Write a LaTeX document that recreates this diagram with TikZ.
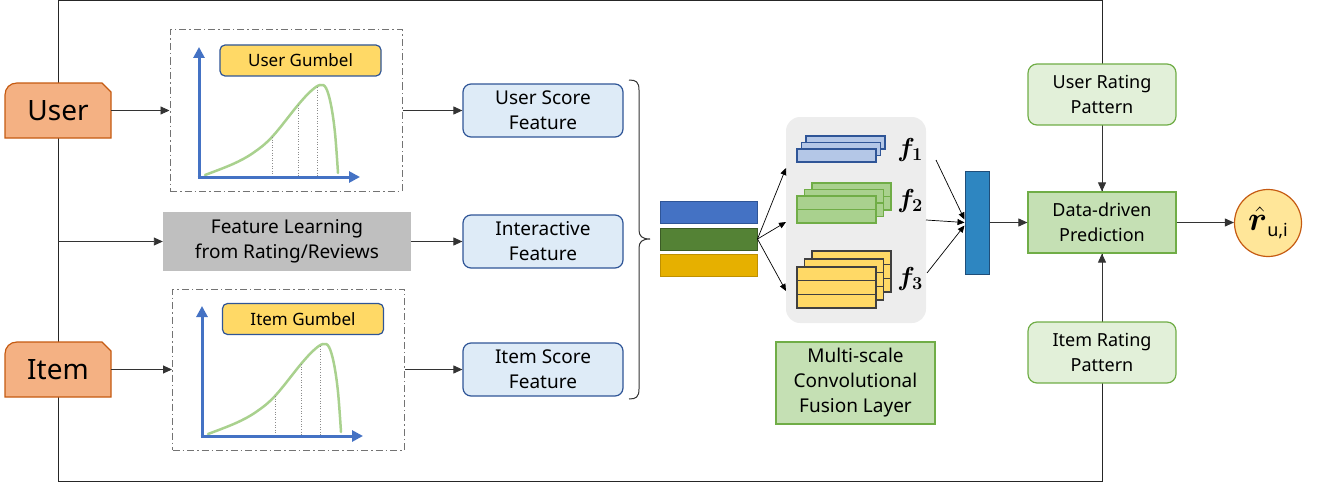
\RequirePackage{fix-cm}
\documentclass[tikz,border=0pt]{standalone}
\usepackage{amsmath}
\usepackage{bm}
\usepackage{fontspec}
\setmainfont{Noto Sans}
\usetikzlibrary{arrows.meta,calc}
\definecolor{oFill}{HTML}{F4B183}
\definecolor{oLine}{HTML}{C55A11}
\definecolor{dBlue}{HTML}{2F5597}
\definecolor{mBlue}{HTML}{4472C4}
\definecolor{lBlue}{HTML}{DEEBF7}
\definecolor{sBlue}{HTML}{B4C7E7}
\definecolor{yFill}{HTML}{FFD966}
\definecolor{gCurve}{HTML}{A9D18E}
\definecolor{gLine}{HTML}{70AD47}
\definecolor{gFill}{HTML}{C5E0B4}
\definecolor{gLight}{HTML}{E2F0D9}
\definecolor{dGreen}{HTML}{548235}
\definecolor{gold}{HTML}{E6B000}
\definecolor{goldLine}{HTML}{BF9000}
\definecolor{panel}{HTML}{EDEDED}
\definecolor{flGray}{HTML}{BFBFBF}
\definecolor{cBar}{HTML}{2E86C1}
\definecolor{cBarLine}{HTML}{1F4E79}
\definecolor{circFill}{HTML}{FFE699}
\tikzset{
  every node/.style={inner sep=0pt, align=center, font=\fontsize{19}{25}\selectfont},
  arr/.style={draw=black!80, line width=0.9pt, -{Triangle[length=9pt,width=8pt]}},
  sarr/.style={draw=black, line width=0.7pt, -{Triangle[length=7pt,width=6pt]}},
  dashbox/.style={draw=black!55, line width=1pt, dash pattern=on 7pt off 3pt on 1.5pt off 3pt, minimum width=232pt, minimum height=161pt},
  gumlabel/.style={draw=dBlue, fill=yFill, line width=1.2pt, rounded corners=5pt, minimum width=161pt, minimum height=31pt, font=\fontsize{17}{20}\selectfont},
  featbox/.style={draw=dBlue, fill=lBlue, line width=1.2pt, rounded corners=8pt, minimum width=160pt, minimum height=53pt},
  patbox/.style={draw=gLine, fill=gLight, line width=1.2pt, rounded corners=9pt, minimum width=148pt, minimum height=61pt, font=\fontsize{18}{25}\selectfont},
  bar/.style={line width=1pt, minimum width=97pt, minimum height=22pt},
  flabel/.style={font=\fontsize{26}{26}\selectfont},
  gumbel/.pic={
    \draw[gCurve, line width=2.5pt, line cap=round] plot[smooth, tension=0.6] coordinates {(6,-2) (34,-13) (54,-24) (73,-40) (99,-72) (112,-86) (121,-92) (127,-89) (132,-72) (136,-44) (139,-4)};
    \draw[black!45, line width=0.6pt, dotted] (73,-40) -- (73,-1) (99,-72) -- (99,-1) (118,-90) -- (118,-1);
    \draw[mBlue, line width=3pt, -{Triangle[length=11pt,width=11pt]}] (0,1.5) -- (0,-130);
    \draw[mBlue, line width=3pt, -{Triangle[length=11pt,width=11pt]}] (-1.5,0) -- (161,0);
  }
}
\begin{document}
\begin{tikzpicture}[x=1pt,y=-1pt]
\useasboundingbox (0,0) rectangle (1317,487);
% outer frame
\coordinate (tl) at (58,0.8);
\coordinate (bl) at (58,481);
\coordinate (br) at (1102,481);
\coordinate (tr) at (1102,0.8);
\draw[black!85, line width=1pt] (tr) -- (tl) -- (bl) -- (br) -- cycle;

% User / Item tabs
\filldraw[fill=oFill, draw=oLine, line width=1.2pt] (5,138) -- (5,95) .. controls (5,88) and (10,83) .. (17,83) -- (102,83) -- (111,92) -- (111,138) -- cycle;
\node[minimum width=106pt, minimum height=55pt, font=\fontsize{28}{30}\selectfont] (user) at (58,110.5) {User};
\filldraw[fill=oFill, draw=oLine, line width=1.2pt] (5,397) -- (5,354) .. controls (5,347) and (10,342) .. (17,342) -- (102,342) -- (111,351) -- (111,397) -- cycle;
\node[minimum width=106pt, minimum height=55pt, font=\fontsize{28}{30}\selectfont] (item) at (58,369.5) {Item};

% Gumbel boxes
\node[dashbox] (ubox) at (286,110.5) {};
\node[dashbox] (ibox) at (288.5,369.5) {};
\pic at (199,177) {gumbel};
\pic at (202,436) {gumbel};
\node[gumlabel] (ug) at (300.5,60.5) {User Gumbel};
\node[gumlabel] (ig) at (303,319) {Item Gumbel};

% Feature learning
\node[fill=flGray, minimum width=248pt, minimum height=59pt] (fl) at (287,241.5) {Feature Learning\\from Rating/Reviews};
\coordinate (lfl) at (58,241.5);

\draw[arr] (user.east) -- (ubox.west);
\draw[arr] (item.east) -- (ibox.west);
\draw[arr] (lfl) -- (fl.west);

% Feature boxes
\node[featbox] (usf) at (543,110.5) {User Score\\Feature};
\node[featbox] (inf) at (543,241.5) {Interactive\\Feature};
\node[featbox] (isf) at (543,369.5) {Item Score\\Feature};
\draw[arr] (ubox.east) -- (usf.west);
\draw[arr] (fl.east) -- (inf.west);
\draw[arr] (ibox.east) -- (isf.west);

% brace
\draw[black!80, line width=1pt] (629,80) .. controls (636,80) and (639,82) .. (639,90) -- (639,230) .. controls (639,236) and (642,239) .. (650,239) .. controls (642,239) and (639,242) .. (639,248) -- (639,389) .. controls (639,397) and (636,399) .. (629,399);

% three bars
\node[bar, fill=mBlue, draw=dBlue] (bb) at (708.5,212.5) {};
\node[bar, fill=dGreen, draw=dGreen!70!black] (bg) at (708.5,239) {};
\node[bar, fill=gold, draw=goldLine] (by) at (708.5,265) {};

% conv panel
\node[fill=panel, rounded corners=14pt, minimum width=140pt, minimum height=206pt] (panel) at (856,220) {};
\coordinate (p1) at (786,168);
\coordinate (p2) at (786,222);
\coordinate (p3) at (786,291);
\draw[sarr] (bg.east) -- (p1);
\draw[sarr] (bg.east) -- (p2);
\draw[sarr] (bg.east) -- (p3);

% f1 stack
\foreach \x/\y in {806/136, 801.5/142.5, 797/149}
  \filldraw[fill=sBlue, draw=dBlue, line width=1.2pt] (\x,\y) rectangle ++(79,13);
% f2 stack
\foreach \x/\y in {812/183, 804.5/189.5, 797/196}{
  \filldraw[fill=gCurve, draw=gLine, line width=1.2pt] (\x,\y) rectangle ++(79,27);
  \draw[gLine, line width=1.2pt] (\x,\y+13.5) -- ++(79,0);
}
% f3 stack
\foreach \x/\y in {812/251, 804.5/259, 797/267}{
  \filldraw[fill=yFill, draw=black!75, line width=1.2pt] (\x,\y) rectangle ++(79,41);
  \draw[black!75, line width=1.2pt] (\x,\y+13.7) -- ++(79,0) (\x,\y+27.3) -- ++(79,0);
}
\node[flabel] (f1) at (910,150) {$\bm{f}_{\bm{1}}$};
\node[flabel] (f2) at (910,201) {$\bm{f}_{\bm{2}}$};
\node[flabel] (f3) at (910,279) {$\bm{f}_{\bm{3}}$};

% fusion bar
\node[fill=cBar, draw=cBarLine, line width=1pt, minimum width=24pt, minimum height=103pt] (cbar) at (977,222.5) {};
\coordinate (o1) at (936,160);
\coordinate (o2) at (926,220);
\coordinate (o3) at (927,273);
\draw[sarr] (o1) -- ([yshift=3pt]cbar.west);
\draw[sarr] (o2) -- (cbar.west);
\draw[sarr] (o3) -- ([yshift=-3pt]cbar.west);

\node[draw=gLine, fill=gFill, line width=1.2pt, minimum width=159pt, minimum height=82pt] (msc) at (855.5,383) {Multi-scale\\Convolutional\\Fusion Layer};

% prediction
\node[draw=gLine, fill=gFill, line width=1.2pt, minimum width=148pt, minimum height=61pt, font=\fontsize{18}{25}\selectfont] (ddp) at (1102,222.5) {Data-driven\\Prediction};
\node[patbox] (urp) at (1102,94.5) {User Rating\\Pattern};
\node[patbox] (irp) at (1102,352.5) {Item Rating\\Pattern};
\draw[arr] (cbar.east) -- (cbar.east -| ddp.west);
\draw[arr] (urp.south) -- (ddp.north);
\draw[arr] (irp.north) -- (ddp.south);

\node[circle, draw=oLine, fill=circFill, line width=1.2pt, minimum size=67pt] (out) at (1268,223) {{\fontsize{34}{34}\selectfont$\bm{\hat{r}}$}{\fontsize{18}{18}\selectfont\raisebox{-6pt}{u,i}}};
\draw[arr] (ddp.east) -- (ddp.east -| out.west);
\end{tikzpicture}
\end{document}
